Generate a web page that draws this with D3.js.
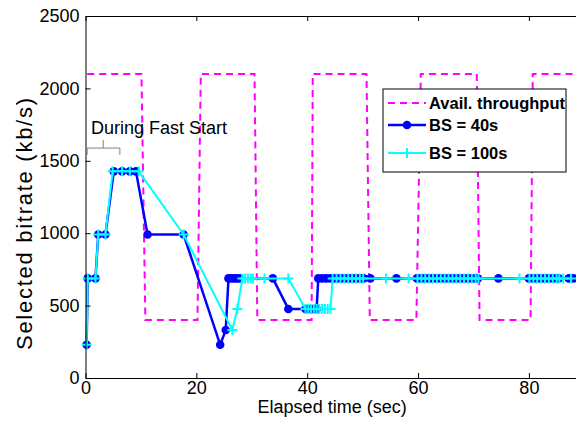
<!DOCTYPE html>
<html>
<head>
<meta charset="utf-8">
<script src="https://cdn.jsdelivr.net/npm/d3@7"></script>
<style>
  body { margin: 0; background: #fff; }
  text { font-family: "Liberation Sans", Arial, sans-serif; }
</style>
</head>
<body>
<svg id="chart" width="576" height="425"></svg>
<script>
// throughput square wave (sec, kb/s)
const throughput = [[0.3,2100],[10.1,2100],[10.8,400],[20.2,400],[20.8,2100],[30.5,2100],[31.0,400],
  [40.8,400],[41.0,2100],[50.7,2100],[51.3,400],[59.7,400],[60.5,2100],[70.6,2100],[71.1,400],
  [80.3,400],[80.7,2100],[88.5,2100]];

// BS = 40s (sec, kb/s)
const bs40 = [[0.2,230],[0.4,688],[1.8,688],[2.3,991],[3.6,991],[5.1,1427],[6.6,1427],[8.0,1427],[9.1,1427],
  [11.2,991],[17.7,991],[24.3,230],[25.3,331],[25.8,688],[26.3,688],[26.8,688],[27.3,688],[27.8,688],
  [33.8,688],[36.6,477],[39.7,477],[40.2,477],[40.7,477],[41.2,477],[41.7,477],
  [42.0,688],[42.7,688],[43.4,688],[44.1,688],[44.8,688],[45.5,688],[46.2,688],[46.9,688],[47.6,688],
  [48.3,688],[49.0,688],[49.7,688],[50.2,688],[51.4,688],[56.1,688],
  [59.8,688],[60.5,688],[61.2,688],[61.9,688],[62.6,688],[63.3,688],[64.0,688],[64.7,688],[65.4,688],
  [66.1,688],[66.8,688],[67.5,688],[68.2,688],[68.9,688],[69.6,688],[70.3,688],[70.8,688],[74.5,688],
  [80.0,688],[80.7,688],[81.4,688],[82.1,688],[82.8,688],[83.5,688],[84.2,688],[84.9,688],[85.4,688],
  [87.2,688],[88.1,688]];

// BS = 100s (sec, kb/s)
const bs100 = [[0.2,230],[0.4,688],[1.8,688],[2.3,991],[3.6,991],[4.9,1427],[6.6,1427],[8.0,1427],[9.6,1427],
  [17.7,991],[26.5,331],[27.4,477],[28.3,688],[28.8,688],[29.3,688],[29.8,688],[30.2,688],[32.3,688],
  [36.6,688],[39.7,477],[40.2,477],[40.7,477],[41.2,477],[41.7,477],[42.2,477],[42.7,477],[43.2,477],
  [43.7,477],[44.2,477],[44.6,688],[45.3,688],[46.0,688],[46.7,688],[47.4,688],[48.1,688],[48.8,688],
  [49.5,688],[50.1,688],[54.2,688],[58.3,688],
  [59.9,688],[60.6,688],[61.3,688],[62.0,688],[62.7,688],[63.4,688],[64.1,688],[64.8,688],[65.5,688],
  [66.2,688],[66.9,688],[67.6,688],[68.3,688],[69.0,688],[69.7,688],[70.4,688],[70.9,688],[78.3,688],
  [80.1,688],[80.8,688],[81.5,688],[82.2,688],[82.9,688],[83.6,688],[84.3,688],[85.0,688],[85.5,688],
  [86.2,688],[87.6,688]];

const xTicks = [0, 20, 40, 60, 80];
const yTicks = [0, 500, 1000, 1500, 2000, 2500];
const legendLabels = ["Avail. throughput", "BS = 40s", "BS = 100s"];

const svg = d3.select("#chart");
const margin = {top: 16, right: 0, bottom: 47, left: 85.5};
const width = 576 - margin.left - margin.right;
const height = 425 - margin.top - margin.bottom;

const x = d3.scaleLinear().domain([0, 88.5]).range([0, width]);
const y = d3.scaleLinear().domain([0, 2500]).range([height, 0]);

const g = svg.append("g").attr("transform", `translate(${margin.left},${margin.top})`);

svg.append("defs").append("clipPath").attr("id", "plot-clip")
  .append("rect").attr("x", -6).attr("y", -6).attr("width", width + 6).attr("height", height + 12);

const line = d3.line().x(d => x(d[0])).y(d => y(d[1]));
const plot = g.append("g").attr("clip-path", "url(#plot-clip)");

// throughput
plot.append("path")
  .datum(throughput)
  .attr("d", line)
  .attr("fill", "none")
  .attr("stroke", "#ff00ff")
  .attr("stroke-width", 2)
  .attr("stroke-dasharray", "7,5");

// BS = 40s
plot.append("path")
  .datum(bs40)
  .attr("d", line)
  .attr("fill", "none")
  .attr("stroke", "#0000ff")
  .attr("stroke-width", 2.5)
  .attr("stroke-linejoin", "round");
plot.selectAll(".dot40")
  .data(bs40)
  .enter().append("circle")
  .attr("class", "dot40")
  .attr("cx", d => x(d[0]))
  .attr("cy", d => y(d[1]))
  .attr("r", 4.3)
  .attr("fill", "#0000ff");

// BS = 100s
plot.append("path")
  .datum(bs100)
  .attr("d", line)
  .attr("fill", "none")
  .attr("stroke", "#00ffff")
  .attr("stroke-width", 2)
  .attr("stroke-linejoin", "round");
plot.selectAll(".plus100")
  .data(bs100)
  .enter().append("path")
  .attr("class", "plus100")
  .attr("transform", d => `translate(${x(d[0])},${y(d[1])})`)
  .attr("d", "M-5,0H5M0,-5V5")
  .attr("stroke", "#00ffff")
  .attr("stroke-width", 2)
  .attr("fill", "none");

// axes (inward ticks, box on top)
const fmt = d3.format("d");
g.append("g")
  .attr("transform", `translate(0,${height})`)
  .call(d3.axisBottom(x).tickValues(xTicks).tickFormat(fmt).tickSizeInner(-5).tickSizeOuter(0).tickPadding(3))
  .call(a => a.selectAll("text").attr("font-size", 18).attr("fill", "#000").attr("font-family", "Liberation Sans, Arial, sans-serif"));
g.append("g")
  .call(d3.axisLeft(y).tickValues(yTicks).tickFormat(fmt).tickSizeInner(-5).tickSizeOuter(0).tickPadding(6))
  .call(a => a.selectAll("text").attr("font-size", 18).attr("fill", "#000").attr("font-family", "Liberation Sans, Arial, sans-serif"));
g.append("g")
  .call(d3.axisTop(x).tickValues(xTicks).tickSizeInner(-5).tickSizeOuter(0).tickFormat(""));
g.selectAll(".domain").attr("stroke", "#000");

// axis labels
svg.append("text")
  .attr("x", margin.left + x(44.5))
  .attr("y", 413)
  .attr("text-anchor", "middle")
  .attr("font-size", 18)
  .text("Elapsed time (sec)");
svg.append("text")
  .attr("transform", "translate(32,224) rotate(-90)")
  .attr("text-anchor", "middle")
  .attr("font-size", 22)
  .attr("textLength", 252)
  .attr("lengthAdjust", "spacing")
  .text("Selected bitrate (kb/s)");

// fast start annotation
const ann = g.append("g");
ann.append("text")
  .attr("x", 5.5)
  .attr("y", 118)
  .attr("font-size", 18)
  .text("During Fast Start");
ann.append("path")
  .attr("d", `M${x(0.3)},${y(1540)}V${y(1588)}H${x(6.2)}V${y(1540)}M${x(3.2)},${y(1588)}V${y(1643)}`)
  .attr("fill", "none")
  .attr("stroke", "#808080")
  .attr("stroke-width", 1);

// legend
const lg = svg.append("g").attr("transform", "translate(383,89)");
lg.append("rect")
  .attr("width", 183).attr("height", 83)
  .attr("fill", "#fff").attr("stroke", "#000").attr("stroke-width", 1);
const rows = [14, 36, 64];
const rowStyle = [
  {color: "#ff00ff", dash: "7,5", w: 2},
  {color: "#0000ff", dash: null, w: 2.5},
  {color: "#00ffff", dash: null, w: 2}
];
legendLabels.forEach((lab, i) => {
  const r = lg.append("g").attr("transform", `translate(0,${rows[i]})`);
  r.append("line")
    .attr("x1", 5).attr("x2", 43)
    .attr("stroke", rowStyle[i].color)
    .attr("stroke-width", rowStyle[i].w)
    .attr("stroke-dasharray", rowStyle[i].dash);
  if (i === 1) r.append("circle").attr("cx", 24).attr("r", 4.3).attr("fill", "#0000ff");
  if (i === 2) r.append("path").attr("transform", "translate(24,0)").attr("d", "M-5,0H5M0,-5V5")
    .attr("stroke", "#00ffff").attr("stroke-width", 2);
  r.append("text")
    .attr("x", 46).attr("y", 6)
    .attr("font-size", 16.5)
    .attr("font-weight", "bold")
    .text(lab);
});
</script>
</body>
</html>
